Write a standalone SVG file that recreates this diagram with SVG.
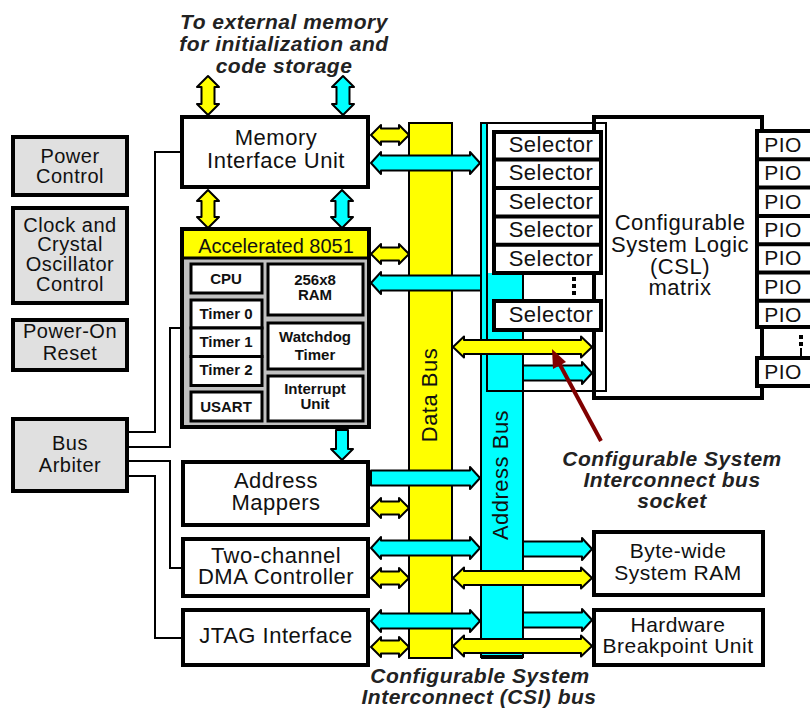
<svg xmlns="http://www.w3.org/2000/svg" width="810" height="708" viewBox="0 0 810 708">
<style>
.box{fill:#fff;stroke:#000;stroke-width:4}
.gbox{fill:#e0e0e0;stroke:#000;stroke-width:4}
.sub{fill:#fff;stroke:#000;stroke-width:3}
.t{font-family:"Liberation Sans",Arial,sans-serif;font-size:22px;letter-spacing:0.5px;fill:#111;text-anchor:middle}
.ts{font-size:20px}
.tm{font-size:21px}
.tb{font-weight:bold;font-size:15px;letter-spacing:0}
.lbl{font-style:italic;font-weight:bold;font-size:21px;fill:#222}
.ya{fill:#ff0;stroke:#000;stroke-width:2;stroke-linejoin:round}
.ca{fill:#0ff;stroke:#000;stroke-width:2;stroke-linejoin:round}
.wire{fill:none;stroke:#000;stroke-width:2}
</style>
<rect width="810" height="708" fill="#fff"/>

<g id="label-top">
<text class="t lbl" x="284" y="29">To external memory</text>
<text class="t lbl" x="284" y="51">for initialization and</text>
<text class="t lbl" x="284" y="73">code storage</text>
</g>

<g id="data-bus">
<rect x="409" y="123" width="43" height="535" fill="#ff0" stroke="#000" stroke-width="2"/>
<text class="t" transform="translate(437,395) rotate(-90)">Data Bus</text>
</g>
<g id="address-bus">
<rect x="481" y="123" width="42" height="534" fill="#0ff" stroke="#000" stroke-width="2"/>
<rect x="481" y="655" width="42" height="4" fill="#000"/>
<text class="t" transform="translate(508,475) rotate(-90)">Address Bus</text>
</g>

<g id="csl-matrix">
<rect class="box" x="594" y="117" width="168" height="281"/>
<text class="t" x="680" y="230">Configurable</text>
<text class="t" x="680" y="252">System Logic</text>
<text class="t" x="680" y="274">(CSL)</text>
<text class="t" x="680" y="295">matrix</text>
</g>

<g id="csi-socket">
<rect x="487" y="123" width="119" height="268" fill="none" stroke="#000" stroke-width="2"/>
<rect x="488" y="124" width="104" height="149" fill="#fff"/>
</g>

<g id="selectors">
<rect class="box" x="494" y="132" width="107" height="141"/>
<line x1="494" y1="159.6" x2="601" y2="159.6" stroke="#000" stroke-width="4"/>
<line x1="494" y1="188" x2="601" y2="188" stroke="#000" stroke-width="4"/>
<line x1="494" y1="216.4" x2="601" y2="216.4" stroke="#000" stroke-width="4"/>
<line x1="494" y1="244.8" x2="601" y2="244.8" stroke="#000" stroke-width="4"/>
<text class="t" x="551" y="152">Selector</text>
<text class="t" x="551" y="180.4">Selector</text>
<text class="t" x="551" y="208.8">Selector</text>
<text class="t" x="551" y="237.2">Selector</text>
<text class="t" x="551" y="265.6">Selector</text>
<rect x="572" y="277" width="4" height="4" fill="#000"/>
<rect x="572" y="284" width="4" height="4" fill="#000"/>
<rect x="572" y="291" width="4" height="4" fill="#000"/>
<rect class="box" x="494" y="301" width="107" height="29"/>
<text class="t" x="551" y="322">Selector</text>
</g>

<g id="pios">
<rect class="box" x="757" y="131" width="56" height="196"/>
<line x1="757" y1="159.3" x2="813" y2="159.3" stroke="#000" stroke-width="4"/>
<line x1="757" y1="187.6" x2="813" y2="187.6" stroke="#000" stroke-width="4"/>
<line x1="757" y1="215.9" x2="813" y2="215.9" stroke="#000" stroke-width="4"/>
<line x1="757" y1="244.2" x2="813" y2="244.2" stroke="#000" stroke-width="4"/>
<line x1="757" y1="272.5" x2="813" y2="272.5" stroke="#000" stroke-width="4"/>
<line x1="757" y1="300.8" x2="813" y2="300.8" stroke="#000" stroke-width="4"/>
<text class="t tm" x="783" y="152">PIO</text>
<text class="t tm" x="783" y="180.3">PIO</text>
<text class="t tm" x="783" y="208.6">PIO</text>
<text class="t tm" x="783" y="236.9">PIO</text>
<text class="t tm" x="783" y="265.2">PIO</text>
<text class="t tm" x="783" y="293.5">PIO</text>
<text class="t tm" x="783" y="321.8">PIO</text>
<rect x="799" y="335" width="4" height="4" fill="#000"/>
<rect x="799" y="342" width="4" height="4" fill="#000"/>
<line x1="801" y1="348" x2="801" y2="358" stroke="#000" stroke-width="2"/>
<rect class="box" x="757" y="358" width="56" height="28"/>
<text class="t tm" x="783" y="379">PIO</text>
</g>

<g id="power-control">
<rect class="gbox" x="13" y="137" width="114" height="58"/>
<text class="t ts" x="70" y="163">Power</text>
<text class="t ts" x="70" y="183">Control</text>
</g>
<g id="clock">
<rect class="gbox" x="13" y="208" width="114" height="95"/>
<text class="t ts" x="70" y="232">Clock and</text>
<text class="t ts" x="70" y="251">Crystal</text>
<text class="t ts" x="70" y="271">Oscillator</text>
<text class="t ts" x="70" y="291">Control</text>
</g>
<g id="power-on-reset">
<rect class="gbox" x="13" y="320" width="114" height="50"/>
<text class="t ts" x="70" y="338">Power-On</text>
<text class="t ts" x="70" y="360">Reset</text>
</g>
<g id="bus-arbiter">
<rect class="gbox" x="13" y="419" width="114" height="72"/>
<text class="t ts" x="70" y="450">Bus</text>
<text class="t ts" x="70" y="472">Arbiter</text>
</g>

<g id="memory-interface">
<rect class="box" x="182" y="117" width="186" height="70"/>
<text class="t" x="276" y="145">Memory</text>
<text class="t" x="276" y="168">Interface Unit</text>
</g>

<g id="accelerated-8051">
<rect x="182" y="229" width="187" height="198" fill="#c0c0c0" stroke="#000" stroke-width="4"/>
<rect x="184" y="231" width="183" height="26" fill="#ff0"/>
<line x1="184" y1="258" x2="367" y2="258" stroke="#000" stroke-width="3"/>
<text class="t" style="font-size:20px;letter-spacing:0" x="276" y="253">Accelerated 8051</text>
<rect class="sub" x="191" y="264" width="71" height="29"/>
<text class="t tb" x="226" y="284">CPU</text>
<rect class="sub" x="268" y="264" width="95" height="51"/>
<text class="t tb" x="315" y="285">256x8</text>
<text class="t tb" x="315" y="300">RAM</text>
<rect class="sub" x="191" y="300" width="71" height="28"/>
<rect class="sub" x="191" y="328" width="71" height="28.5"/>
<rect class="sub" x="191" y="356.5" width="71" height="29"/>
<text class="t tb" x="226" y="319">Timer 0</text>
<text class="t tb" x="226" y="347">Timer 1</text>
<text class="t tb" x="226" y="375">Timer 2</text>
<rect class="sub" x="191" y="392" width="71" height="29"/>
<text class="t tb" x="226" y="412">USART</text>
<rect class="sub" x="268" y="323" width="95" height="46"/>
<text class="t tb" x="315" y="342">Watchdog</text>
<text class="t tb" x="315" y="360">Timer</text>
<rect class="sub" x="268" y="376" width="95" height="45"/>
<text class="t tb" x="315" y="394">Interrupt</text>
<text class="t tb" x="315" y="409">Unit</text>
</g>

<g id="address-mappers">
<rect class="box" x="183" y="462" width="185" height="63"/>
<text class="t" x="276" y="488">Address</text>
<text class="t" x="276" y="510">Mappers</text>
</g>
<g id="dma">
<rect class="box" x="183" y="539" width="185" height="57"/>
<text class="t" x="276" y="563">Two-channel</text>
<text class="t" x="276" y="584">DMA Controller</text>
</g>
<g id="jtag">
<rect class="box" x="183" y="610" width="185" height="55"/>
<text class="t" x="276" y="643">JTAG Interface</text>
</g>

<g id="system-ram">
<rect class="box" x="594" y="532" width="169" height="63"/>
<text class="t tm" x="678" y="558">Byte-wide</text>
<text class="t tm" x="678" y="580">System RAM</text>
</g>
<g id="breakpoint">
<rect class="box" x="594" y="610" width="169" height="55"/>
<text class="t tm" x="678" y="632">Hardware</text>
<text class="t tm" x="678" y="653">Breakpoint Unit</text>
</g>

<g id="connectors">
<path class="wire" d="M180,152 H155 V432 H129"/>
<path class="wire" d="M180,328 H170 V447 H129"/>
<path class="wire" d="M129,461 H170 V568 H181"/>
<path class="wire" d="M129,476 H155 V638 H181"/>

<polygon class="ya" points="208,76 219,87 214.5,87 214.5,104 219,104 208,115 197,104 201.5,104 201.5,87 197,87"/>
<polygon class="ca" points="343,76 354,87 349.5,87 349.5,104 354,104 343,115 332,104 336.5,104 336.5,87 332,87"/>
<polygon class="ya" points="208,190 219,201 214.5,201 214.5,217 219,217 208,228 197,217 201.5,217 201.5,201 197,201"/>
<polygon class="ca" points="342,190 353,201 348.5,201 348.5,217 353,217 342,228 331,217 335.5,217 335.5,201 331,201"/>
<polygon class="ca" points="336,430 348,430 348,449 353,449 342,460 331,449 336,449"/>

<polygon class="ya" points="371,135 381,125 381,128.5 399,128.5 399,125 409,135 399,145 399,141.5 381,141.5 381,145"/>
<polygon class="ya" points="371,254 381,244 381,247.5 399,247.5 399,244 409,254 399,264 399,260.5 381,260.5 381,264"/>
<polygon class="ya" points="371,508 381,498 381,501.5 399,501.5 399,498 409,508 399,518 399,514.5 381,514.5 381,518"/>
<polygon class="ya" points="371,578 381,568 381,571.5 399,571.5 399,568 409,578 399,588 399,584.5 381,584.5 381,588"/>
<polygon class="ya" points="371,647 381,637 381,640.5 399,640.5 399,637 409,647 399,657 399,653.5 381,653.5 381,657"/>

<polygon class="ca" points="371,163 381,152 381,155.5 470,155.5 470,152 480,163 470,174 470,170.5 381,170.5 381,174"/>
<polygon class="ca" points="481,275.5 381,275.5 381,272 371,283 381,294 381,290.5 481,290.5"/>
<polygon class="ca" points="371,470.5 470,470.5 470,467 480,478 470,489 470,485.5 371,485.5"/>
<polygon class="ca" points="371,548 381,537 381,540.5 470,540.5 470,537 480,548 470,559 470,555.5 381,555.5 381,559"/>
<polygon class="ca" points="371,621 381,610 381,613.5 470,613.5 470,610 480,621 470,632 470,628.5 381,628.5 381,632"/>

<polygon class="ya" points="453,347 464,336.5 464,340 581,340 581,336.5 592,347 581,357.5 581,354 464,354 464,357.5"/>
<polygon class="ca" points="523,365.5 582,365.5 582,362 592,373 582,384 582,380.5 523,380.5"/>
<polygon class="ca" points="523,541.5 582,541.5 582,538 592,549 582,560 582,556.5 523,556.5"/>
<polygon class="ya" points="453,578 464,567.5 464,571 581,571 581,567.5 592,578 581,588.5 581,585 464,585 464,588.5"/>
<polygon class="ca" points="523,612.5 582,612.5 582,609 592,620 582,631 582,627.5 523,627.5"/>
<polygon class="ya" points="453,646 464,635.5 464,639 581,639 581,635.5 592,646 581,656.5 581,653 464,653 464,656.5"/>

<line x1="601" y1="441" x2="559" y2="363" stroke="#800000" stroke-width="4"/>
<polygon points="552,349 566,362 553,369" fill="#800000"/>
</g>

<g id="label-socket">
<text class="t lbl" x="672" y="466">Configurable System</text>
<text class="t lbl" x="672" y="487">Interconnect bus</text>
<text class="t lbl" x="672" y="508">socket</text>
</g>
<g id="label-csi">
<text class="t lbl" x="480" y="683">Configurable System</text>
<text class="t lbl" x="479" y="704">Interconnect (CSI) bus</text>
</g>
</svg>
